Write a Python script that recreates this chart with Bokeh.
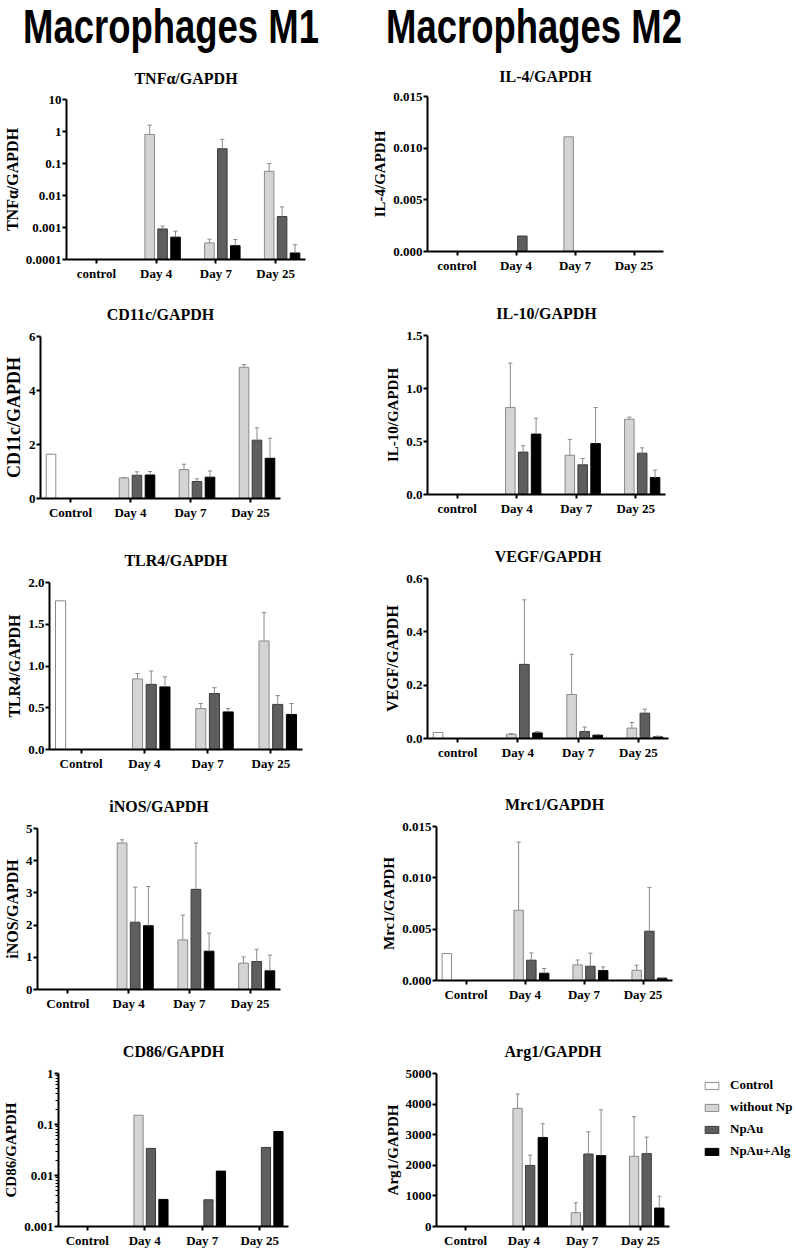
from bokeh.plotting import figure
from bokeh.models import (ColumnDataSource, FactorRange, Range1d, FixedTicker,
                          PrintfTickFormatter, Legend, LegendItem, Div)
from bokeh.transform import dodge
from bokeh.layouts import row, column
from bokeh.embed import file_html
from bokeh.resources import INLINE

# ---------------- data ----------------
groups_lc = ["control", "Day 4", "Day 7", "Day 25"]
groups_uc = ["Control", "Day 4", "Day 7", "Day 25"]
series_names = ["Control", "without Np", "NpAu", "NpAu+Alg"]

# every day-list is ordered: Day 4, Day 7, Day 25
# TNFα/GAPDH
tnf_ctrl = None
tnf_wnp = [0.81, 0.00033, 0.057]
tnf_wnp_sd = [0.77, 0.0001, 0.043]
tnf_npau = [0.0009, 0.29, 0.0022]
tnf_npau_sd = [0.0002, 0.28, 0.0022]
tnf_alg = [0.0005, 0.00027, 0.00016]
tnf_alg_sd = [0.00027, 0.00015, 0.00013]

# IL-4/GAPDH
il4_ctrl = None
il4_wnp = [None, 0.0111, None]
il4_npau = [0.0015, None, None]
il4_alg = [None, None, None]

# CD11c/GAPDH
cd11c_ctrl = 1.64
cd11c_wnp = [0.76, 1.07, 4.86]
cd11c_wnp_sd = [0.02, 0.2, 0.1]
cd11c_npau = [0.86, 0.63, 2.16]
cd11c_npau_sd = [0.13, 0.1, 0.46]
cd11c_alg = [0.87, 0.79, 1.49]
cd11c_alg_sd = [0.13, 0.23, 0.74]

# IL-10/GAPDH
il10_ctrl = None
il10_wnp = [0.82, 0.37, 0.71]
il10_wnp_sd = [0.42, 0.15, 0.02]
il10_npau = [0.40, 0.28, 0.39]
il10_npau_sd = [0.06, 0.06, 0.05]
il10_alg = [0.57, 0.48, 0.16]
il10_alg_sd = [0.15, 0.34, 0.07]

# TLR4/GAPDH
tlr4_ctrl = 1.78
tlr4_wnp = [0.845, 0.49, 1.30]
tlr4_wnp_sd = [0.065, 0.06, 0.34]
tlr4_npau = [0.78, 0.67, 0.54]
tlr4_npau_sd = [0.16, 0.07, 0.105]
tlr4_alg = [0.75, 0.45, 0.42]
tlr4_alg_sd = [0.12, 0.04, 0.13]

# VEGF/GAPDH
vegf_ctrl = 0.0225
vegf_wnp = [0.016, 0.165, 0.039]
vegf_wnp_sd = [0.003, 0.151, 0.021]
vegf_npau = [0.278, 0.026, 0.095]
vegf_npau_sd = [0.242, 0.017, 0.015]
vegf_alg = [0.021, 0.0125, 0.006]
vegf_alg_sd = [0.005, 0.0025, 0.003]

# iNOS/GAPDH
inos_ctrl = None
inos_wnp = [4.55, 1.54, 0.82]
inos_wnp_sd = [0.1, 0.77, 0.19]
inos_npau = [2.09, 3.11, 0.87]
inos_npau_sd = [1.09, 1.44, 0.38]
inos_alg = [1.98, 1.19, 0.58]
inos_alg_sd = [1.22, 0.56, 0.49]

# Mrc1/GAPDH
mrc1_ctrl = 0.00262
mrc1_wnp = [0.00684, 0.00152, 0.00100]
mrc1_wnp_sd = [0.00664, 0.00048, 0.00049]
mrc1_npau = [0.00198, 0.00139, 0.0048]
mrc1_npau_sd = [0.00071, 0.00127, 0.00427]
mrc1_alg = [0.00071, 0.00097, 0.00023]
mrc1_alg_sd = [0.00046, 0.00036, 0.00003]

# CD86/GAPDH
cd86_ctrl = None
cd86_wnp = [0.152, None, None]
cd86_npau = [0.034, 0.00334, 0.0355]
cd86_alg = [0.0034, 0.0122, 0.073]

# Arg1/GAPDH
arg1_ctrl = None
arg1_wnp = [3858, 452, 2295]
arg1_wnp_sd = [474, 324, 1293]
arg1_npau = [1994, 2370, 2381]
arg1_npau_sd = [340, 723, 539]
arg1_alg = [2910, 2317, 603]
arg1_alg_sd = [450, 1498, 388]

# ---------------- style ----------------
SERIF = "Liberation Serif"
FILLS = ["#ffffff", "#d4d4d4", "#5e5e5e", "#000000"]
LINES = ["#8a8a8a", "#8a8a8a", "#3a3a3a", "#000000"]
OFFSETS = [-0.325, -0.108, 0.108, 0.325]
BAR_W = 0.16
CAP = 0.035
ERR_COLOR = "#8a8a8a"
LW, RW = 358, 436   # column widths


def panel(title, ylabel, groups, ctrl, wnp, npau, alg, sds, y0, y1, ticks, fmt,
          log=False, minor=None, width=350, height=240, bl=40, br=60, bt=50, bb=25,
          ylabel_size="16px", standoff=28, transparent=False):
    p = figure(width=width, height=height,
               x_range=FactorRange(*groups),
               y_range=Range1d(y0, y1),
               y_axis_type="log" if log else "linear",
               output_backend="svg", toolbar_location=None,
               min_border_left=bl, min_border_right=br,
               min_border_top=bt, min_border_bottom=bb,
               background_fill_color="white",
               border_fill_color=None if transparent else "white")
    p.frame_align = False
    p.outline_line_color = None
    p.xgrid.visible = False
    p.ygrid.visible = False

    base = y0 if log else 0
    day_series = [wnp, npau, alg]
    for i in range(4):
        if i == 0:
            vals = [ctrl, None, None, None]
            sd = [None] * 4
        else:
            vals = [None] + list(day_series[i - 1])
            s = sds[i - 1] if sds is not None else None
            sd = [None] + list(s) if s is not None else [None] * 4
        gx, tops, etops = [], [], []
        for g, v, e in zip(groups, vals, sd):
            if v is None:
                continue
            gx.append(g)
            tops.append(v)
            etops.append(v + e if e is not None else v)
        src = ColumnDataSource(dict(g=gx, top=tops, etop=etops))
        p.vbar(x=dodge("g", OFFSETS[i], range=p.x_range), top="top", bottom=base,
               width=BAR_W, source=src, fill_color=FILLS[i], line_color=LINES[i],
               line_width=1)
        if sds is not None and i > 0:
            p.segment(x0=dodge("g", OFFSETS[i], range=p.x_range), y0="top",
                      x1=dodge("g", OFFSETS[i], range=p.x_range), y1="etop",
                      source=src, line_color=ERR_COLOR, line_width=1)
            p.segment(x0=dodge("g", OFFSETS[i] - CAP, range=p.x_range), y0="etop",
                      x1=dodge("g", OFFSETS[i] + CAP, range=p.x_range), y1="etop",
                      source=src, line_color=ERR_COLOR, line_width=1)

    p.title.text = title
    p.title.align = "center"
    p.title.text_font = SERIF
    p.title.text_font_style = "bold"
    p.title.text_font_size = "16px"
    p.title.text_color = "black"
    p.title.standoff = standoff

    for ax in (p.xaxis[0], p.yaxis[0]):
        ax.axis_line_width = 2
        ax.axis_line_color = "black"
        ax.major_tick_line_width = 2
        ax.major_tick_line_color = "black"
        ax.major_tick_out = 4
        ax.major_tick_in = 0
        ax.major_label_text_font = SERIF
        ax.major_label_text_font_style = "bold"
        ax.major_label_text_font_size = "13px"
        ax.major_label_text_color = "black"
    p.xaxis.major_label_standoff = 2
    p.xaxis.minor_tick_line_color = None
    p.yaxis.major_label_standoff = 1

    p.yaxis.ticker = FixedTicker(ticks=ticks, minor_ticks=minor or [])
    p.yaxis.formatter = PrintfTickFormatter(format=fmt)
    if minor:
        p.yaxis.minor_tick_out = 3
        p.yaxis.minor_tick_in = 0
        p.yaxis.minor_tick_line_width = 1
        p.yaxis.minor_tick_line_color = "black"
    else:
        p.yaxis.minor_tick_line_color = None
    p.yaxis.axis_label = ylabel
    p.yaxis.axis_label_text_font = SERIF
    p.yaxis.axis_label_text_font_style = "bold"
    p.yaxis.axis_label_text_font_size = ylabel_size
    p.yaxis.axis_label_text_color = "black"
    p.yaxis.axis_label_standoff = 2
    return p


def legend_panel(width, height, x_left, y_bottom):
    p = figure(width=width, height=height, x_range=Range1d(0, 1), y_range=Range1d(0, 1),
               output_backend="svg", toolbar_location=None, min_border=0,
               x_axis_location=None, y_axis_location=None,
               background_fill_color="white", border_fill_color="white")
    p.frame_align = False
    p.outline_line_color = None
    p.xgrid.visible = False
    p.ygrid.visible = False
    # legend swatches only: their single bar sits outside the visible range
    rs = [p.vbar(x=[5], top=[0.5], width=0.1, fill_color=FILLS[i], line_color=LINES[i],
                 line_width=1) for i in range(4)]
    items = [LegendItem(label=n, renderers=[r]) for n, r in zip(series_names, rs)]
    lg = Legend(items=items, location=(x_left, y_bottom), orientation="vertical",
                glyph_width=17, glyph_height=9, label_height=16, spacing=6,
                label_standoff=10, padding=0, margin=0,
                border_line_color=None, background_fill_alpha=0,
                label_text_font=SERIF, label_text_font_style="bold",
                label_text_font_size="13px", label_text_color="black")
    p.add_layout(lg)
    return p


LOG_TNF = [0.0001, 0.001, 0.01, 0.1, 1, 10]
LOG_CD86 = [0.001, 0.01, 0.1, 1]
minor_cd86 = [m * d for d in (0.001, 0.01, 0.1) for m in range(2, 10)]

p_tnf = panel("TNFα/GAPDH", "TNFα/GAPDH", groups_lc, tnf_ctrl, tnf_wnp, tnf_npau, tnf_alg,
              [tnf_wnp_sd, tnf_npau_sd, tnf_alg_sd], 0.0001, 10, LOG_TNF, "%g", log=True,
              width=LW, height=234, bl=63, br=53, bt=47, bb=27, standoff=26, transparent=True)
p_il4 = panel("IL-4/GAPDH", "IL-4/GAPDH", groups_lc, il4_ctrl, il4_wnp, il4_npau, il4_alg,
              None, 0, 0.015, [0, 0.005, 0.010, 0.015], "%.3f",
              width=RW, height=234, bl=69, br=131, bt=44, bb=35, ylabel_size="15px",
              standoff=24, transparent=True)

p_cd11c = panel("CD11c/GAPDH", "CD11c/GAPDH", groups_uc, cd11c_ctrl, cd11c_wnp, cd11c_npau, cd11c_alg,
                [cd11c_wnp_sd, cd11c_npau_sd, cd11c_alg_sd], 0, 6, [0, 2, 4, 6], "%d",
                width=LW, height=244, bl=37, br=78, bt=50, bb=32, ylabel_size="18px")
p_il10 = panel("IL-10/GAPDH", "IL-10/GAPDH", groups_lc, il10_ctrl, il10_wnp, il10_npau, il10_alg,
               [il10_wnp_sd, il10_npau_sd, il10_alg_sd], 0, 1.5, [0, 0.5, 1.0, 1.5], "%.1f",
               width=RW, height=244, bl=69, br=129, bt=49, bb=36, ylabel_size="15px")

p_tlr4 = panel("TLR4/GAPDH", "TLR4/GAPDH", groups_uc, tlr4_ctrl, tlr4_wnp, tlr4_npau, tlr4_alg,
               [tlr4_wnp_sd, tlr4_npau_sd, tlr4_alg_sd], 0, 2.0, [0, 0.5, 1.0, 1.5, 2.0], "%.1f",
               width=LW, height=245, bl=49, br=56, bt=52, bb=26)
p_vegf = panel("VEGF/GAPDH", "VEGF/GAPDH", groups_lc, vegf_ctrl, vegf_wnp, vegf_npau, vegf_alg,
               [vegf_wnp_sd, vegf_npau_sd, vegf_alg_sd], 0, 0.6, [0, 0.2, 0.4, 0.6], "%.1f",
               width=RW, height=245, bl=69, br=126, bt=48, bb=37, standoff=27)

p_inos = panel("iNOS/GAPDH", "iNOS/GAPDH", groups_uc, inos_ctrl, inos_wnp, inos_npau, inos_alg,
               [inos_wnp_sd, inos_npau_sd, inos_alg_sd], 0, 5, [0, 1, 2, 3, 4, 5], "%d",
               width=LW, height=240, bl=37, br=78, bt=53, bb=26)
p_mrc1 = panel("Mrc1/GAPDH", "Mrc1/GAPDH", groups_uc, mrc1_ctrl, mrc1_wnp, mrc1_npau, mrc1_alg,
               [mrc1_wnp_sd, mrc1_npau_sd, mrc1_alg_sd], 0, 0.015, [0, 0.005, 0.010, 0.015], "%.3f",
               width=RW, height=240, bl=78, br=122, bt=51, bb=35, ylabel_size="15px")

p_cd86 = panel("CD86/GAPDH", "CD86/GAPDH", groups_uc, cd86_ctrl, cd86_wnp, cd86_npau, cd86_alg,
               None, 0.001, 1, LOG_CD86, "%g", log=True, minor=minor_cd86,
               width=LW, height=235, bl=52, br=70, bt=58, bb=20, ylabel_size="15px")
p_arg1 = panel("Arg1/GAPDH", "Arg1/GAPDH", groups_uc, arg1_ctrl, arg1_wnp, arg1_npau, arg1_alg,
               [arg1_wnp_sd, arg1_npau_sd, arg1_alg_sd], 0, 5000, [0, 1000, 2000, 3000, 4000, 5000], "%d",
               width=338, height=235, bl=78, br=27, bt=58, bb=23, ylabel_size="15px")
p_leg = legend_panel(RW - 338, 235, 7, 91)

HEAD = ("display:inline-block;white-space:nowrap;font-family:'Liberation Sans',Arial,sans-serif;"
        "font-weight:bold;font-size:48px;line-height:54px;transform:scaleX(0.76);"
        "transform-origin:left top;margin-left:%dpx;color:black;")
h1 = Div(text='<span style="%s">Macrophages M1</span>' % (HEAD % 23), width=LW, height=52,
         margin=(0, 0, 0, 0))
h2 = Div(text='<span style="%s">Macrophages M2</span>' % (HEAD % 28), width=RW, height=52,
         margin=(0, 0, 0, 0))

layout = column(
    row(h1, h2, spacing=0),
    row(p_tnf, p_il4, spacing=0),
    row(p_cd11c, p_il10, spacing=0),
    row(p_tlr4, p_vegf, spacing=0),
    row(p_inos, p_mrc1, spacing=0),
    row(p_cd86, p_arg1, p_leg, spacing=0),
    spacing=0,
)

open("out.html", "w").write(file_html(layout, INLINE))
